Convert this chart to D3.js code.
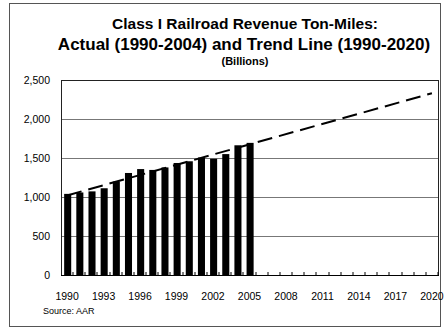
<!DOCTYPE html>
<html>
<head>
<meta charset="utf-8">
<script src="https://cdn.jsdelivr.net/npm/d3@7"></script>
<style>
  html, body { margin: 0; padding: 0; background: #fff; }
  svg { display: block; font-family: "Liberation Sans", Arial, sans-serif; }
</style>
</head>
<body>
<svg id="chart" width="445" height="330"></svg>
<script>
// Class I railroad revenue ton-miles (billions)
const years = d3.range(1990, 2021);            // axis categories 1990..2020
const actualYears = [1990, 1991, 1992, 1993, 1994, 1995, 1996, 1997,
                     1998, 1999, 2000, 2001, 2002, 2003, 2004, 2005];
const actualValues = [1040, 1058, 1072, 1112, 1198, 1308, 1358, 1347,
                      1379, 1436, 1458, 1506, 1490, 1550, 1663, 1694];
const trendYears = [1990, 2020];
const trendValues = [1020, 2330];
const yTicks = [0, 500, 1000, 1500, 2000, 2500];
const xTickLabels = [1990, 1993, 1996, 1999, 2002, 2005, 2008, 2011, 2014, 2017, 2020];

const svg = d3.select("#chart");
const plot = { left: 61, right: 438, top: 80, bottom: 275 };

// outer chart frame
svg.append("rect")
  .attr("x", 9.5).attr("y", 3.5).attr("width", 431).attr("height", 323)
  .attr("fill", "none").attr("stroke", "#555").attr("stroke-width", 1);

// titles
const titles = [
  { text: "Class I Railroad Revenue Ton-Miles:", y: 29, size: 15.5, cx: 245 },
  { text: "Actual (1990-2004) and Trend Line (1990-2020)", y: 50, size: 17, cx: 244 },
  { text: "(Billions)", y: 65, size: 11, cx: 245 }
];
svg.selectAll("text.title").data(titles).join("text")
  .attr("class", "title")
  .attr("x", d => d.cx).attr("y", d => d.y)
  .attr("text-anchor", "middle")
  .attr("font-weight", "bold")
  .attr("font-size", d => d.size)
  .attr("fill", "#000")
  .text(d => d.text);

const x = d3.scaleBand().domain(years).range([plot.left, plot.right]).padding(0);
const y = d3.scaleLinear().domain([0, 2500]).range([plot.bottom, plot.top]);

// horizontal gridlines
svg.append("g").selectAll("line").data(yTicks.filter(v => v > 0 && v < 2500)).join("line")
  .attr("x1", plot.left).attr("x2", plot.right)
  .attr("y1", d => y(d) + 0.5).attr("y2", d => y(d) + 0.5)
  .attr("stroke", "#777").attr("stroke-width", 1);

// bars
const barW = x.bandwidth() * 0.58;
svg.append("g").selectAll("rect").data(actualYears.map((yr, i) => ({ yr, v: actualValues[i] }))).join("rect")
  .attr("x", d => x(d.yr) + (x.bandwidth() - barW) / 2 + 0.6)
  .attr("y", d => y(d.v))
  .attr("width", barW)
  .attr("height", d => y(0) - y(d.v))
  .attr("fill", "#000");

// dashed trend line
const line = d3.line().x(d => x(d[0]) + x.bandwidth() / 2).y(d => y(d[1]));
svg.append("path")
  .datum(trendYears.map((yr, i) => [yr, trendValues[i]]))
  .attr("d", line)
  .attr("fill", "none").attr("stroke", "#000").attr("stroke-width", 2)
  .attr("stroke-dasharray", "15,7");

// plot frame
svg.append("rect")
  .attr("x", plot.left + 0.5).attr("y", plot.top + 0.5)
  .attr("width", plot.right - plot.left).attr("height", plot.bottom - plot.top)
  .attr("fill", "none").attr("stroke", "#222").attr("stroke-width", 1);

// y axis
const yAxis = d3.axisLeft(y).tickValues(yTicks).tickSize(0).tickPadding(11)
  .tickFormat(d3.format(","));
const gy = svg.append("g").attr("transform", `translate(${plot.left},0)`).call(yAxis);
gy.select(".domain").remove();
gy.selectAll("text").attr("font-size", 10.5).attr("fill", "#000")
  .attr("font-family", "Liberation Sans, Arial, sans-serif");

// x axis: small inward ticks at category boundaries, labels every third year
const gx = svg.append("g").attr("transform", `translate(0,${plot.bottom})`);
gx.append("line").attr("x1", plot.left).attr("x2", plot.right + 1)
  .attr("y1", 0.5).attr("y2", 0.5).attr("stroke", "#000").attr("stroke-width", 1.2);
gx.selectAll("line.tick").data(years).join("line")
  .attr("class", "tick")
  .attr("x1", d => Math.round(x(d) + x.bandwidth())).attr("x2", d => Math.round(x(d) + x.bandwidth()))
  .attr("y1", 0).attr("y2", -3)
  .attr("stroke", "#000").attr("stroke-width", 1);
gx.selectAll("text").data(xTickLabels).join("text")
  .attr("x", d => x(d) + x.bandwidth() / 2)
  .attr("y", 25)
  .attr("text-anchor", "middle")
  .attr("font-size", 10.5)
  .attr("fill", "#000")
  .text(d => d);

// source note
svg.append("text").attr("x", 43).attr("y", 314)
  .attr("font-size", 9).attr("fill", "#000")
  .text("Source: AAR");
</script>
</body>
</html>
